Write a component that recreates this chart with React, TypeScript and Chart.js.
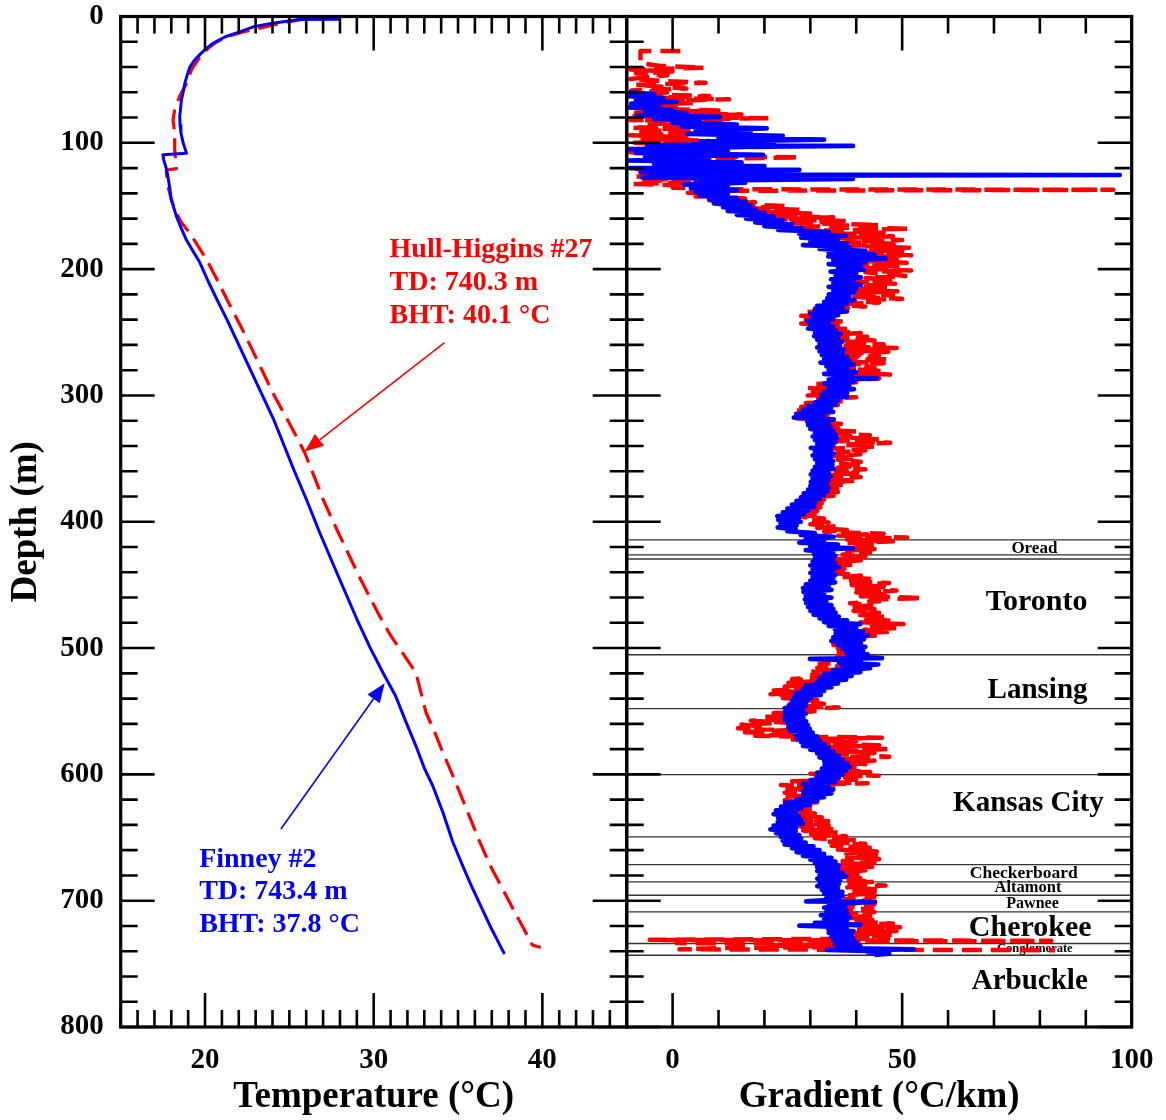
import React, { useEffect, useRef } from "react";
import { Chart, registerables } from "chart.js";

Chart.register(...registerables);

const SERIF = '"Liberation Serif", "Times New Roman", Times, serif';
const W = 1166;
const H = 1120;
const BLUE = "#0000ff";
const RED = "#ff0000";

// ---- tick labels ----
const DEPTH_TICKS = [0, 100, 200, 300, 400, 500, 600, 700, 800];
const TEMP_TICKS = [20, 30, 40];
const GRAD_TICKS = [0, 50, 100];

// ---- temperature logs: [depth m, temperature °C] ----
const FINNEY_TEMP: [number, number][] = [
  [2.2, 28.0], [2.3, 25.6], [5.4, 24.0], [8, 22.9], [12, 22.1], [16, 21.2], [21, 20.5], [25, 20.1],
  [30, 19.7], [35, 19.35], [40, 19.1], [46, 18.95], [53, 18.8], [60, 18.7], [66, 18.6], [73, 18.55],
  [79, 18.5], [86, 18.52], [92, 18.57], [100, 18.7], [104, 18.8], [108.2, 18.9], [109.5, 17.5],
  [113.5, 17.55], [120, 17.7], [126.7, 17.8], [135, 17.9], [145, 18.0], [158, 18.3], [168, 18.6],
  [177, 18.9], [186, 19.3], [195, 19.7], [210, 20.2], [224, 20.7], [240, 21.3], [260, 22.0],
  [280, 22.7], [300, 23.4], [320, 24.1], [340, 24.7], [360, 25.3], [382, 26.0], [408.7, 26.8],
  [440, 27.8], [477, 29.0], [500, 29.8], [519.5, 30.55], [538, 31.3], [558, 31.9], [577.4, 32.5],
  [595, 33.0], [609, 33.5], [630, 34.1], [653.9, 34.7], [670, 35.2], [685.5, 35.7], [700, 36.2],
  [720, 36.9], [737, 37.55], [742.2, 37.75],
];

const HULL_TEMP: [number, number][] = [
  [1.8, 26.0], [5, 24.6], [9, 23.3], [12, 22.3], [16, 21.3], [20, 20.7], [25, 20.2], [32, 19.7],
  [42, 19.2], [53, 18.9], [63, 18.5], [74, 18.2], [82, 18.1], [92, 18.2], [105, 18.2], [120.5, 18.3],
  [121.5, 17.7], [134, 17.8], [145, 18.0], [155.6, 18.3], [163, 18.6], [171.5, 19.1], [182, 19.6],
  [192.6, 20.1], [208, 20.7], [224, 21.3], [250, 22.3], [275, 23.2], [300, 24.1], [322, 25.0],
  [345, 25.9], [365, 26.5], [382.4, 27.0], [400, 27.6], [417, 28.2], [445, 29.2], [474.6, 30.35],
  [490, 31.0], [503.6, 31.7], [519.5, 32.5], [535, 32.8], [551, 33.1], [566, 33.6], [582.7, 34.1],
  [598, 34.6], [614.3, 35.1], [634, 35.7], [653.9, 36.3], [672, 36.9], [690.8, 37.65], [710, 38.4],
  [729.7, 39.2], [735, 39.4], [737, 39.9],
];

// ---- gradient logs: [depth m, gradient °C/km] ----
const FINNEY_GRAD: [number, number][] = [
  [60, -9.5], [61.5, -4], [63, -9.7], [64.5, -2], [66, -8], [67.5, 0.9], [69, -9], [70.5, -3], [72, -9.5],
  [73.5, 0], [75, -6], [76.5, 3], [78, -7.7], [79.5, 10.3], [81, -4], [82.5, 6], [84, 0], [85.5, 14],
  [87, 2], [88.5, 20.5], [90, 5], [91.5, 17], [93, 3.2], [94.5, 24], [96, 10], [97.5, 33], [99, 6],
  [100.5, 22], [102, -5.5], [102.5, 39.3], [103.5, 5], [105, -9.7], [106.5, 12], [108, -8], [109.5, 19.7],
  [111, -6], [112.5, 8], [114, -9.7], [115.5, 15], [117, -4], [118.5, 20], [120, -9.3], [121.5, 27.6],
  [123, -7], [124.5, 10], [125.2, -5.5], [125.5, 97.4], [126, 20], [127.5, -6.6], [128.5, 39.3], [130, 5],
  [131.5, 15.8], [133, 2.5], [134.5, 12], [136, 4], [137.5, 14], [139, 5], [140.5, 12], [142, 6],
  [143.5, 14], [145, 8], [146.5, 16], [148, 9], [149.5, 17], [151, 11], [152.5, 18], [154, 12],
  [155.5, 20], [157, 14], [158.5, 22], [160, 16], [161.5, 24], [163, 18], [164.5, 26], [166, 20],
  [167.5, 28], [169, 23], [170.5, 34], [172, 27.6], [173.5, 37.7], [175, 28], [176.5, 36], [178, 30],
  [179.5, 38], [181, 28.4], [182.5, 38.5], [184, 32], [185.5, 42], [187, 34], [188.5, 44], [190, 33.9],
  [191.5, 46.4], [193, 35], [194.5, 42], [196, 34], [197.5, 41], [199, 36], [200.5, 41.7], [202, 34.4],
  [203.5, 40], [205, 35.5], [206.5, 41], [208, 34.5], [209.5, 39.5], [211, 35], [212.5, 41], [214, 34],
  [215.5, 40], [217, 35], [218.5, 39.5], [220, 34], [221.5, 38.5], [223, 33.7], [224.5, 39.5], [226, 33],
  [227.5, 38], [229, 31.5], [230.5, 37], [232, 31], [233.5, 38], [235, 30], [236.5, 36], [238, 30.5],
  [239.5, 35], [241, 29.3], [242.5, 34], [244, 30], [245.5, 35], [247, 29.5], [248.5, 35.5], [250, 31],
  [251.5, 36.6], [253, 30.8], [254.5, 36], [256, 31.5], [257.5, 37], [259, 32], [260.5, 36.5], [262, 31.5],
  [263.5, 37.3], [265, 32], [266.5, 37], [268, 32.5], [269.5, 38], [271, 33], [272.5, 38.5], [274, 32.2],
  [275.5, 39.5], [277, 33.5], [278.5, 38], [280, 34], [281.5, 40], [283, 33], [284.5, 39], [286, 35],
  [286.5, 44.5], [287.5, 34], [289, 39.5], [290.5, 33], [292, 38.5], [293.5, 34], [295, 39.5], [296.5, 33],
  [298, 38], [299.5, 32.5], [301, 38], [302.5, 32.2], [304, 36], [305.5, 31], [307, 35.5], [308.5, 29.5],
  [310, 34.5], [311.5, 28.5], [313, 35], [314.5, 27], [316, 33], [317.5, 26.4], [319, 35.1], [320.5, 29.3],
  [322, 34], [323.5, 29.5], [325, 34.4], [326.5, 30], [328, 35], [329.5, 31], [331, 35.5], [332.5, 30.5],
  [334, 35.8], [335.5, 31], [337, 35.5], [338.5, 31.5], [340, 35], [341.5, 30.1], [343, 34.5], [344.5, 31],
  [346, 35.1], [347.5, 30.5], [349, 34.5], [350.5, 31], [352, 35], [353.5, 31.5], [355, 34.8], [356.5, 31],
  [358, 35.1], [359.5, 30.5], [361, 34], [362.5, 30.1], [364, 34.4], [365.5, 30.5], [367, 34], [368.5, 30.1],
  [370, 33.5], [371.5, 30], [373, 34], [374.5, 29.5], [376, 33.7], [377.5, 28.6], [379, 33], [380.5, 28],
  [382, 32], [383.5, 27], [385, 31], [386.5, 26], [388, 30.8], [389.5, 25], [391, 29.5], [392.5, 24],
  [394, 28.6], [395.5, 22.8], [397, 27.5], [398.5, 23], [400, 27.9], [401.5, 23.5], [403, 27], [404.5, 22.9],
  [406, 26.8], [407.5, 25], [409, 31], [410.5, 27.9], [412, 35.1], [413.5, 29], [415, 33], [416.5, 27.6],
  [418, 36], [419.5, 30], [421, 39.3], [422.5, 29], [424, 35], [425.5, 30.8], [427, 35.4], [428.5, 31],
  [430, 35], [431.5, 30.5], [433, 35.4], [434.5, 30], [436, 36.2], [437.5, 30.5], [439, 35], [440.5, 30],
  [442, 35.5], [443.5, 30.5], [445, 35], [446.5, 30], [448, 35.4], [449.5, 29], [451, 34], [452.5, 28.4],
  [454, 34.6], [455.5, 28.5], [457, 33], [458.5, 29], [460, 34.6], [461.5, 28.8], [463, 33.5], [464.5, 29.1],
  [466, 34.6], [467.5, 29.5], [469, 35], [470.5, 30], [472, 35.5], [473.5, 30.7], [475, 36.2], [476.5, 32],
  [478, 38], [479.5, 33], [481, 40.9], [482.5, 34], [484, 40], [485.5, 35.4], [487, 41.5], [488.5, 35.5],
  [490, 42.5], [491.5, 35], [493, 41.7], [494.5, 34.6], [496, 41], [497.5, 36], [499, 42], [500.5, 37],
  [502, 41.5], [503.5, 37.8], [505, 42.5], [506.5, 38], [508, 45.6], [508.5, 29.9], [510, 41], [511.5, 36.2],
  [513, 44.8], [514.5, 37], [516, 43], [517.5, 35], [519, 40.9], [520.5, 33], [522, 39], [523.5, 32],
  [525, 37.8], [526.5, 31.5], [528, 36], [529.5, 29], [531, 34.6], [532.5, 28.4], [534, 33], [535.5, 26.8],
  [537, 32.3], [538.5, 26.5], [540, 30], [541.5, 26], [543, 29.1], [544.5, 25.5], [546, 29], [547.5, 24.4],
  [549, 28.4], [550.5, 24.5], [552, 29], [553.5, 24.4], [555, 28.5], [556.5, 24.4], [558, 29.1], [559.5, 25],
  [561, 29.5], [562.5, 25.2], [564, 29.9], [565.5, 25.5], [567, 30.5], [568.5, 26.8], [570, 31.5], [571.5, 27],
  [573, 32], [574.5, 28], [576, 33.1], [577.5, 28.4], [579, 34], [580.5, 30], [582, 35], [583.5, 31.5],
  [585, 36.2], [586.5, 32], [588, 37], [589.5, 33], [591, 38], [592.5, 33.1], [594, 38.6], [595.5, 32.5],
  [597, 37.8], [598.5, 31.5], [600, 37], [601.5, 31.5], [603, 36.2], [604.5, 30], [606, 35.4], [607.5, 28.4],
  [609, 34], [610.5, 29], [612, 35], [613.5, 28.4], [615, 34.6], [616.5, 28.5], [618, 33], [619.5, 27],
  [621, 31.5], [622.5, 24.5], [624, 29.9], [625.5, 23.6], [627, 28], [628.5, 22.5], [630, 26.8], [631.5, 22],
  [633, 27.5], [634.5, 23], [636, 28], [637.5, 22.9], [639, 28.4], [640.5, 22], [642, 27], [643.5, 21.3],
  [645, 26.8], [646.5, 22.5], [648, 27.6], [649.5, 23.6], [651, 28], [652.5, 24], [654, 29], [655.5, 24.4],
  [657, 30.7], [658.5, 26], [660, 32], [661.5, 27], [663, 33], [664.5, 28.4], [666, 34.6], [667.5, 30],
  [669, 35.5], [670.5, 31], [672, 36.2], [673.5, 31.5], [675, 36], [676.5, 31.5], [678, 37], [679.5, 32],
  [681, 37.8], [682.5, 31.5], [684, 36.5], [685.5, 32], [687, 36.2], [688.5, 31.5], [690, 36], [691.5, 32.5],
  [693, 37], [694.5, 33], [696, 37], [697.5, 33.5], [699, 36.5], [700.5, 29.1], [701, 44.1], [702.5, 34],
  [704, 37.5], [705.5, 33], [707, 37.8], [708.5, 33.5], [710, 38], [711.5, 32.3], [713, 38.6], [714.5, 33],
  [716, 38], [717.5, 31], [719, 40.9], [719.8, 27.6], [721, 38], [722.5, 33.9], [724, 39.4], [725.5, 34],
  [727, 39], [728.5, 34.6], [730, 39.4], [731.5, 35], [733, 40], [734.5, 35.4], [736, 40.9], [737.5, 36],
  [738.5, 52.5], [739, 33.6], [740, 45], [741, 42.5], [742, 47.2], [743, 44],
];

const HULL_GRAD: [number, number][] = [
  [27.3, 1.7], [27.4, -7], [37, -7], [39, -3], [40.5, 6.8], [42, -9.3], [43.5, 0], [45, -8], [46.5, -1.1],
  [48, -5.4], [49.5, -9.3], [51, -2], [52.5, 7.2], [54, -8.1], [55.5, -3], [57, 3], [58.5, -9], [60, 0],
  [61.5, -7], [63, 8], [64.5, -5.4], [65.5, 12.3], [67, -3], [68.5, 5], [70, -9], [71.5, 2], [73, -6],
  [74.5, 10], [76, -8], [77.5, 15], [79, -9], [80.5, 20.9], [82, -9.3], [83.5, 12], [85, -5], [86.5, 10],
  [88, -9], [89.5, 4], [91, -8], [92.5, 8], [94, -9.3], [95.5, 3], [97, -7], [98.5, 8], [100, -9],
  [101.5, 5], [103, 22.9], [104.5, -6], [106, 8], [107.5, -9.3], [109, 6], [110.5, 0.9], [111.5, 27.6],
  [113, 3], [114.5, -5], [116, 15], [117.5, -3], [119, 10], [120.5, -8.5], [122, 12], [123.5, -6], [125, 8],
  [126.5, -8.5], [128, 5], [129.5, -7], [131, 11], [132.5, -8.9], [134, 6], [135.5, 0], [136.8, 11.7],
  [137.2, 96], [138, 8], [139.5, 3.3], [141, 12], [142.5, 5], [144, 15.8], [145.5, 8], [147, 18], [148.5, 10],
  [150, 25], [151.5, 14], [153, 28], [154.5, 17], [156, 30], [157.5, 18], [159, 35], [160.5, 22], [162, 38],
  [163.5, 25], [165, 45], [166.5, 26.8], [168, 51.5], [169.5, 32], [171, 46], [172.5, 34], [174, 48],
  [175.5, 36], [177, 50], [178.5, 38], [180, 49], [181.5, 39], [183, 51.5], [184.5, 42.4], [186, 50],
  [187.5, 40], [189, 52], [190.5, 41], [192, 50], [193.5, 42], [195, 51], [196.5, 40], [198, 49], [199.5, 41],
  [201, 52], [202.5, 42], [204, 48], [205.5, 50.7], [207, 42], [208.5, 48], [210, 40], [211.5, 48.5],
  [213, 41], [214.5, 47], [216, 39], [217.5, 49], [219, 40], [220.5, 48], [222, 39], [223.5, 50], [225, 38],
  [226.5, 45], [228, 34], [229.5, 42], [231, 31], [232.5, 38], [234, 29], [235.5, 36.7], [237, 28],
  [238.5, 35], [240, 29], [241.5, 37.3], [243, 28], [244.5, 36], [246, 30], [247.5, 39], [249, 33],
  [250.5, 41], [252, 34.4], [253.5, 42.4], [255, 36], [256.5, 44], [258, 36.7], [259.5, 46], [261, 37],
  [262.5, 48.8], [264, 36.7], [265.5, 47], [267, 36], [268.5, 45], [270, 35.1], [271.5, 47.4], [273, 36],
  [274.5, 46], [276, 35.1], [277.5, 44], [279, 37], [280.5, 46], [282, 38], [283.5, 47.4], [285, 38],
  [286.5, 45], [288, 36], [289.5, 40], [291, 31], [292.5, 37.3], [294, 29.4], [295.5, 36], [297, 30],
  [298.5, 38], [300, 29.4], [301.5, 40], [303, 31], [304.5, 38], [306, 29], [307.5, 36], [309, 28],
  [310.5, 34], [312, 27], [313.5, 33], [315, 26.4], [316.5, 34.4], [318, 27], [319.5, 35], [321, 29.4],
  [322.5, 36.7], [324, 30], [325.5, 36], [327, 31], [328.5, 40], [330, 33], [331.5, 43], [333, 35.8],
  [334.5, 45], [336, 36], [337.5, 47.4], [339, 37], [340.5, 44], [342, 35.1], [343.5, 42], [345, 36],
  [346.5, 40.9], [348, 35.1], [349.5, 40], [351, 36], [352.5, 41], [354, 36.7], [355.5, 40.9], [357, 36],
  [358.5, 42], [360, 35.5], [361.5, 40.2], [363, 34], [364.5, 41], [366, 32.2], [367.5, 40], [369, 33],
  [370.5, 38], [372, 31], [373.5, 37], [375, 29.5], [376.5, 36], [378, 28.5], [379.5, 35.1], [381, 27.9],
  [382.5, 33], [384, 27], [385.5, 32.5], [387, 26.4], [388.5, 32.2], [390, 27], [391.5, 31.5], [393, 27.9],
  [394.5, 32.2], [396, 28], [397.5, 33], [399, 29.4], [400.5, 34], [402, 30], [403.5, 35.1], [405, 31.5],
  [406.5, 38], [408, 33], [409.5, 46], [411, 36], [412.5, 51.1], [414, 38], [415.5, 48], [417, 37.8],
  [418.5, 44.8], [420, 39], [421.5, 44], [423, 38], [424.5, 43], [426, 37], [427.5, 42], [429, 35],
  [430.5, 41], [432, 35], [433.5, 40], [435, 35.5], [436.5, 38], [438, 35], [439.5, 38], [441, 36],
  [442.5, 41], [444, 37], [445.5, 44], [447, 37.8], [448.5, 47.2], [450, 39], [451.5, 46], [453, 39.4],
  [454.5, 48.8], [456, 40], [457.5, 47], [459, 41], [460, 51], [460.5, 54.5], [461.5, 42], [463, 45],
  [464.5, 38.6], [466, 43.3], [467.5, 39], [469, 44], [470.5, 39.4], [472, 45], [473.5, 40], [475, 46.4],
  [476.5, 41], [478, 48], [479.5, 40.9], [481, 50.3], [482.5, 42], [484, 49], [485.5, 41.7], [487, 47.2],
  [488.5, 40], [490, 45], [491.5, 37], [493, 42], [494.5, 34.6], [496, 40.9], [497.5, 35], [499, 40],
  [500.5, 36], [502, 41], [503.5, 36.2], [505, 40.9], [506.5, 35], [508, 39.4], [509.5, 33], [511, 38.5],
  [512.5, 32], [514, 37.8], [515.5, 31.5], [517, 36], [518.5, 30], [520, 35.4], [521.5, 29.9], [523, 33],
  [524.5, 26], [526, 31.5], [527.5, 25.2], [529, 29.5], [530.5, 24.4], [532, 29.1], [533.5, 22], [535, 28.4],
  [536.5, 21.3], [538, 27], [539.5, 24], [541, 31.5], [542.5, 26], [544, 33], [545.5, 25.2], [547, 36.2],
  [548.5, 26], [550, 32], [551.5, 22], [553, 28.4], [554.5, 19.7], [556, 26], [557.5, 17], [559, 25],
  [560.5, 15], [562, 19], [563.5, 14.2], [565, 25], [566.5, 14.5], [568, 30], [569.5, 18], [571, 45.6],
  [572.5, 25.2], [574, 40], [575.5, 31.5], [577, 45], [578.5, 33], [580, 47.2], [581.5, 35], [583, 44],
  [584.5, 35.4], [586, 47.2], [587.5, 37], [589, 44], [590.5, 38], [592, 42], [593.5, 37.8], [595, 40.9],
  [596.5, 35], [598, 43], [599.5, 30], [601, 44.9], [602.5, 29.9], [604, 40], [605.5, 26], [607, 42.5],
  [608.5, 23.6], [610, 35], [611.5, 25], [613, 33], [614.5, 24.4], [616, 32], [617.5, 25], [619, 33],
  [620.5, 24.4], [622, 31.5], [623.5, 25.5], [625, 30], [626.5, 26.8], [628, 29.9], [629.5, 27], [631, 31],
  [632.5, 26.8], [634, 32.5], [635.5, 27.5], [637, 33.9], [638.5, 27.6], [640, 34], [641.5, 28], [643, 34.6],
  [644.5, 28.4], [646, 36], [647.5, 29], [649, 37.8], [650.5, 31], [652, 40], [653.5, 33], [655, 42],
  [656.5, 34.6], [658, 44], [659.5, 36], [661, 44.5], [662.5, 37.8], [664, 45.6], [665.5, 38], [667, 45],
  [668.5, 37], [670, 44], [671.5, 36.2], [673, 44], [674.5, 36.5], [676, 42], [677.5, 36.2], [679, 41],
  [680.5, 36.2], [682, 40.9], [683.5, 37], [685, 44], [686.5, 37.8], [688, 46.4], [689.5, 38], [691, 45],
  [692.5, 38.6], [694, 44], [695.5, 38.6], [697, 44], [698.5, 37.5], [700, 43], [701.5, 37], [703, 44],
  [704.5, 37.5], [706, 43.5], [707.5, 37], [709, 44], [710.5, 37.8], [712, 43], [713.5, 38], [715, 44],
  [716.5, 39], [718, 48], [719.5, 39.4], [721, 49.6], [722.5, 40], [724, 48.8], [725.5, 39.4], [727, 48],
  [728.5, 40], [730, 47], [731, -5], [731.8, 82.5], [732.5, 30], [733.5, 0.9], [734.5, 37.8], [735.5, 20],
  [736.5, 40], [737.5, 10], [738.5, 1.5], [739.2, 83.3],
];

// ---- formations (right panel) ----
const FORMATION_TOPS = [414.4, 426.3, 429.5, 505.3, 548, 600.2, 649.5, 671.4, 685.1, 695.7, 708.8, 733.9, 743.2];
const FORMATION_NAMES = ["Oread", "Toronto", "Lansing", "Kansas City", "Checkerboard", "Altamont", "Pawnee", "Cherokee", "Conglomerate", "Arbuckle"];
const FORMATION_LABEL_DEPTH = [425.1, 469.9, 539.2, 629.3, 682.1, 693.4, 705.6, 727.7, 740.8, 769.9];
const FORMATION_LABEL_GRAD = [78.8, 79.3, 79.5, 77.5, 76.5, 77.4, 78.4, 77.9, 78.9, 77.8];
const FORMATION_LABEL_SIZE = [17, 30, 29, 29, 17.5, 16.5, 16, 30, 12.5, 29];

// ---- well annotations ----
const HULL_NOTE = ["Hull-Higgins #27", "TD: 740.3 m", "BHT: 40.1 °C"];
const FINNEY_NOTE = ["Finney #2", "TD: 743.4 m", "BHT: 37.8 °C"];
const HULL_NOTE_TEMP = 30.94;
const HULL_NOTE_DEPTHS = [190.4, 216.5, 242.6];
const FINNEY_NOTE_TEMP = 19.65;
const FINNEY_NOTE_DEPTHS = [673.6, 698.7, 725.0];
const HULL_ARROW = [34.2, 258.2, 25.9, 344.4];
const FINNEY_ARROW = [24.5, 643.3, 30.65, 527.9];

const LEFT_AREA = { left: 120.7, right: 626.7 };
const RIGHT_AREA = { left: 626.7, right: 1131.7 };
const AREA_TOP = 16.5;
const X_AXIS_HEIGHT = 93;

function framePlugin(xStep: number, xMajor: number) {
  return {
    id: "frameTicks",
    afterDraw(chart: any) {
      const { ctx, chartArea: a, scales } = chart;
      const xs = scales.x;
      const ys = scales.y;
      ctx.save();
      ctx.strokeStyle = "#000";
      ctx.lineWidth = 2.6;
      ctx.beginPath();
      for (let d = 0; d <= 800; d += 20) {
        const py = ys.getPixelForValue(d);
        const len = d % 100 === 0 ? 34 : 17;
        ctx.moveTo(a.left, py);
        ctx.lineTo(a.left + len, py);
        ctx.moveTo(a.right, py);
        ctx.lineTo(a.right - len, py);
      }
      for (let v = xs.min; v <= xs.max + 1e-6; v += xStep) {
        const px = xs.getPixelForValue(v);
        const r = Math.abs(v % xMajor);
        const len = r < 1e-6 ? 34 : 17;
        ctx.moveTo(px, a.bottom);
        ctx.lineTo(px, a.bottom - len);
        ctx.moveTo(px, a.top);
        ctx.lineTo(px, a.top + len);
      }
      ctx.stroke();
      ctx.lineWidth = 3.2;
      ctx.strokeRect(a.left, a.top, a.right - a.left, a.bottom - a.top);
      ctx.restore();
    },
  };
}

function drawArrow(ctx: CanvasRenderingContext2D, x1: number, y1: number, x2: number, y2: number, color: string) {
  const ang = Math.atan2(y2 - y1, x2 - x1);
  const len = 19;
  const hw = 7.5;
  const bx = x2 - len * Math.cos(ang);
  const by = y2 - len * Math.sin(ang);
  ctx.strokeStyle = color;
  ctx.fillStyle = color;
  ctx.lineWidth = 1.6;
  ctx.beginPath();
  ctx.moveTo(x1, y1);
  ctx.lineTo(bx, by);
  ctx.stroke();
  ctx.beginPath();
  ctx.moveTo(x2, y2);
  ctx.lineTo(bx - hw * Math.sin(ang), by + hw * Math.cos(ang));
  ctx.lineTo(bx + hw * Math.sin(ang), by - hw * Math.cos(ang));
  ctx.closePath();
  ctx.fill();
}

const notesPlugin = {
  id: "wellNotes",
  afterDatasetsDraw(chart: any) {
    const { ctx, scales } = chart;
    const xs = scales.x;
    const ys = scales.y;
    ctx.save();
    drawArrow(ctx, xs.getPixelForValue(HULL_ARROW[0]), ys.getPixelForValue(HULL_ARROW[1]),
      xs.getPixelForValue(HULL_ARROW[2]), ys.getPixelForValue(HULL_ARROW[3]), RED);
    drawArrow(ctx, xs.getPixelForValue(FINNEY_ARROW[0]), ys.getPixelForValue(FINNEY_ARROW[1]),
      xs.getPixelForValue(FINNEY_ARROW[2]), ys.getPixelForValue(FINNEY_ARROW[3]), BLUE);
    ctx.font = `bold 28px ${SERIF}`;
    ctx.textAlign = "left";
    ctx.textBaseline = "alphabetic";
    ctx.fillStyle = RED;
    HULL_NOTE.forEach((t, i) => ctx.fillText(t, xs.getPixelForValue(HULL_NOTE_TEMP), ys.getPixelForValue(HULL_NOTE_DEPTHS[i])));
    ctx.fillStyle = BLUE;
    FINNEY_NOTE.forEach((t, i) => ctx.fillText(t, xs.getPixelForValue(FINNEY_NOTE_TEMP), ys.getPixelForValue(FINNEY_NOTE_DEPTHS[i])));
    ctx.restore();
  },
};

const formationPlugin = {
  id: "formations",
  beforeDatasetsDraw(chart: any) {
    const { ctx, chartArea: a, scales } = chart;
    const xs = scales.x;
    const ys = scales.y;
    ctx.save();
    ctx.strokeStyle = "#333";
    ctx.lineWidth = 1.3;
    ctx.beginPath();
    FORMATION_TOPS.forEach((d) => {
      const py = ys.getPixelForValue(d);
      ctx.moveTo(a.left, py);
      ctx.lineTo(a.right, py);
    });
    ctx.stroke();
    ctx.fillStyle = "#000";
    ctx.textAlign = "center";
    ctx.textBaseline = "alphabetic";
    FORMATION_NAMES.forEach((name, i) => {
      ctx.font = `bold ${FORMATION_LABEL_SIZE[i]}px ${SERIF}`;
      ctx.fillText(name, xs.getPixelForValue(FORMATION_LABEL_GRAD[i]), ys.getPixelForValue(FORMATION_LABEL_DEPTH[i]));
    });
    ctx.restore();
  },
};

const tickFont = { family: SERIF, size: 29, weight: "bold" as const };
const titleFont = { family: SERIF, size: 37, weight: "bold" as const };

function lineSet(label: string, rows: [number, number][], color: string, width: number, dashed: boolean) {
  return {
    label,
    data: rows.map(([d, v]) => ({ x: v, y: d })),
    showLine: true,
    borderColor: color,
    backgroundColor: color,
    borderWidth: width,
    borderDash: dashed ? [20, 9] : [],
    borderJoinStyle: "round" as const,
    pointRadius: 0,
    pointHoverRadius: 0,
    fill: false,
    tension: 0,
  };
}

function zeroPadding(s: any) {
  s.paddingTop = 0;
  s.paddingBottom = 0;
  s.paddingLeft = 0;
  s.paddingRight = 0;
}

function depthScale(show: boolean) {
  return {
    type: "linear" as const,
    position: "left" as const,
    reverse: true,
    min: 0,
    max: 800,
    display: show,
    afterBuildTicks: (s: any) => {
      s.ticks = DEPTH_TICKS.map((v) => ({ value: v }));
    },
    afterFit: (s: any) => {
      if (show) s.width = LEFT_AREA.left;
      zeroPadding(s);
    },
    grid: { display: false, drawTicks: false },
    border: { display: false },
    ticks: { font: tickFont, color: "#000", padding: 17, autoSkip: false },
    title: { display: true, text: "Depth (m)", font: titleFont, color: "#000", padding: { top: 4, bottom: 0 } },
  };
}

function bottomScale(min: number, max: number, ticks: number[], title: string) {
  return {
    type: "linear" as const,
    position: "bottom" as const,
    min,
    max,
    afterBuildTicks: (s: any) => {
      s.ticks = ticks.map((v) => ({ value: v }));
    },
    afterFit: (s: any) => {
      s.height = X_AXIS_HEIGHT;
      zeroPadding(s);
    },
    grid: { display: false, drawTicks: false },
    border: { display: false },
    ticks: { font: tickFont, color: "#000", padding: 16, autoSkip: false, maxRotation: 0 },
    title: { display: true, text: title, font: titleFont, color: "#000", padding: { top: 0, bottom: 0 } },
  };
}

export default function App() {
  const leftRef = useRef<HTMLCanvasElement>(null);
  const rightRef = useRef<HTMLCanvasElement>(null);

  useEffect(() => {
    Chart.defaults.font.family = SERIF;
    const common = {
      responsive: false,
      animation: false as const,
      devicePixelRatio: 1,
      events: [] as any[],
      plugins: { legend: { display: false }, tooltip: { enabled: false } },
    };
    const left = new Chart(leftRef.current as HTMLCanvasElement, {
      type: "scatter",
      data: {
        datasets: [
          lineSet("Finney #2", FINNEY_TEMP, BLUE, 3, false),
          lineSet("Hull-Higgins #27", HULL_TEMP, RED, 3.2, true),
        ],
      },
      options: {
        ...common,
        layout: { padding: { left: 0, top: AREA_TOP, right: W - LEFT_AREA.right, bottom: 0 } },
        scales: {
          x: bottomScale(15, 45, TEMP_TICKS, "Temperature (°C)"),
          y: depthScale(true),
        },
      } as any,
      plugins: [framePlugin(1, 10), notesPlugin],
    });
    const right = new Chart(rightRef.current as HTMLCanvasElement, {
      type: "scatter",
      data: {
        datasets: [
          lineSet("Finney #2", FINNEY_GRAD, BLUE, 4.7, false),
          lineSet("Hull-Higgins #27", HULL_GRAD, RED, 4.5, true),
        ],
      },
      options: {
        ...common,
        layout: { padding: { left: RIGHT_AREA.left, top: AREA_TOP, right: W - RIGHT_AREA.right, bottom: 0 } },
        scales: {
          x: bottomScale(-10, 100, GRAD_TICKS, "Gradient (°C/km)"),
          y: depthScale(false),
        },
      } as any,
      plugins: [formationPlugin, framePlugin(10, 50)],
    });
    return () => {
      left.destroy();
      right.destroy();
    };
  }, []);

  return (
    <div style={{ position: "absolute", left: 0, top: 0, width: W, height: H, background: "#fff" }}>
      <canvas ref={leftRef} width={W} height={H} style={{ position: "absolute", left: 0, top: 0 }} />
      <canvas ref={rightRef} width={W} height={H} style={{ position: "absolute", left: 0, top: 0 }} />
    </div>
  );
}
